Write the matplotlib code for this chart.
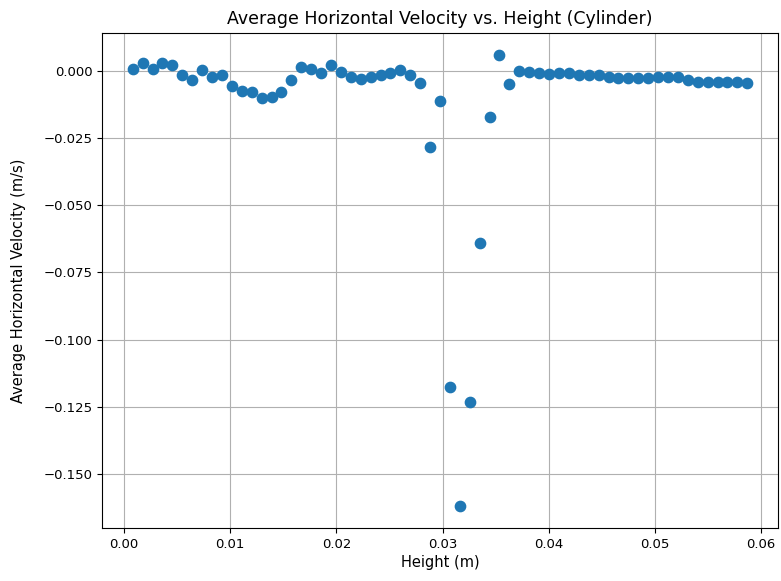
import matplotlib
matplotlib.use("Agg")
import matplotlib.pyplot as plt

# Height bins (m)
heights = [
    0.00082, 0.00175, 0.00269, 0.00362, 0.00455, 0.00549, 0.00642, 0.00735,
    0.00829, 0.00922, 0.01016, 0.01109, 0.01202, 0.01296, 0.01389, 0.01482,
    0.01576, 0.01669, 0.01762, 0.01856, 0.01949, 0.02042, 0.02136, 0.02229,
    0.02322, 0.02416, 0.02509, 0.02603, 0.02696, 0.02789, 0.02883, 0.02976,
    0.03069, 0.03163, 0.03256, 0.03349, 0.03443, 0.03536, 0.03629, 0.03723,
    0.03816, 0.03910, 0.04003, 0.04096, 0.04190, 0.04283, 0.04376, 0.04470,
    0.04563, 0.04656, 0.04750, 0.04843, 0.04936, 0.05030, 0.05123, 0.05217,
    0.05310, 0.05403, 0.05497, 0.05590, 0.05683, 0.05777, 0.05870,
]

# Average horizontal velocity (m/s)
velocity = [
    0.0005, 0.0030, 0.0005, 0.0030, 0.0020, -0.0016, -0.0035, 0.0003,
    -0.0022, -0.0017, -0.0057, -0.0074, -0.0079, -0.0103, -0.0097, -0.0079,
    -0.0035, 0.0013, 0.0005, -0.0010, 0.0020, -0.0005, -0.0022, -0.0030,
    -0.0022, -0.0017, -0.0010, 0.0003, -0.0017, -0.0045, -0.0282, -0.0112,
    -0.1175, -0.1618, -0.1232, -0.0640, -0.0171, 0.0057, -0.0049, 0.0000,
    -0.0005, -0.0010, -0.0012, -0.0010, -0.0010, -0.0017, -0.0017, -0.0017,
    -0.0022, -0.0028, -0.0028, -0.0028, -0.0028, -0.0025, -0.0025, -0.0025,
    -0.0035, -0.0041, -0.0041, -0.0041, -0.0041, -0.0041, -0.0047,
]

fig = plt.figure(figsize=(7.81, 5.81), dpi=100)
ax = fig.add_axes([0.1306, 0.0905, 0.8656, 0.853])
ax.scatter(heights, velocity, s=55, color="#1f77b4", zorder=3)
ax.set_title("Average Horizontal Velocity vs. Height (Cylinder)", fontsize=12.5)
ax.set_xlabel("Height (m)", fontsize=10.5, labelpad=3)
ax.set_ylabel("Average Horizontal Velocity (m/s)", fontsize=10.5, labelpad=12)
ax.tick_params(labelsize=9.5)
ax.grid(True)
ax.set_axisbelow(True)

fig.savefig("out.png", dpi=100)
